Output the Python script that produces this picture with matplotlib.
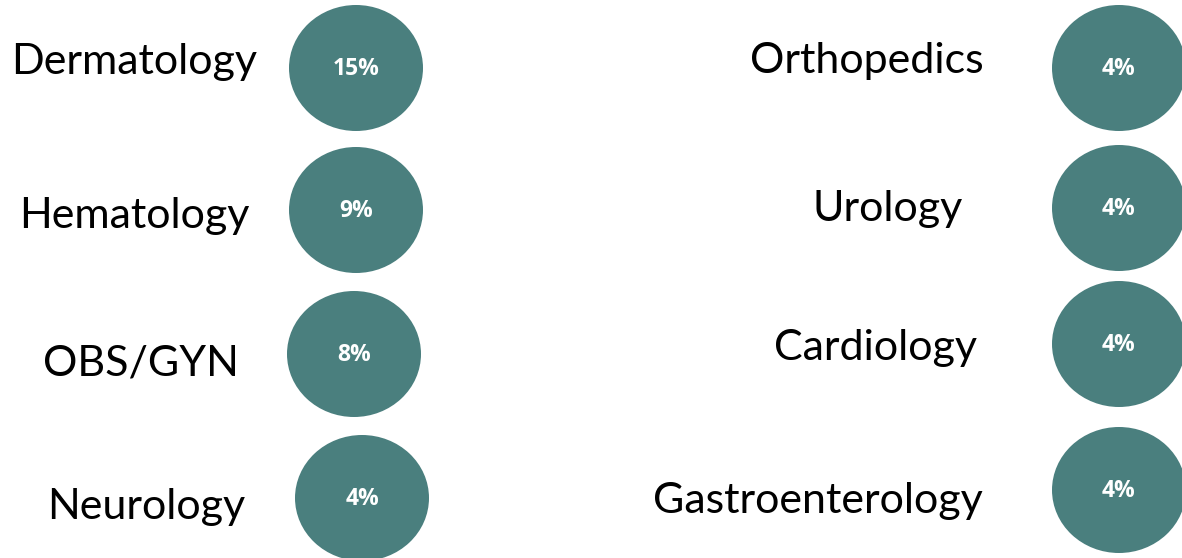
import matplotlib
matplotlib.use("Agg")
import matplotlib.pyplot as plt
from matplotlib.patches import Ellipse

# --- Data ---
left_labels = ["Dermatology", "Hematology", "OBS/GYN", "Neurology"]
left_values = [15, 9, 8, 4]
right_labels = ["Orthopedics", "Urology", "Cardiology", "Gastroenterology"]
right_values = [4, 4, 4, 4]

# --- Layout (pixel coordinates, y grows downward) ---
left_circle_x = [356, 356, 354, 362]
left_circle_y = [68, 210, 354, 498]
left_text_x = [134, 134, 141, 146]
left_text_y = [74, 228, 375, 519]

right_circle_x = [1119, 1119, 1119, 1119]
right_circle_y = [68, 208, 344, 490]
right_text_x = [984, 963, 977, 983]
right_text_y = [73, 221, 360, 513]

circle_w, circle_h = 134, 126
teal = "#4a7f7e"
label_font = "Lato"
pct_font = "Open Sans"

fig = plt.figure(figsize=(11.82, 5.58), dpi=100)
ax = fig.add_axes([0, 0, 1, 1])
ax.set_xlim(0, 1182)
ax.set_ylim(558, 0)
ax.axis("off")


def draw_column(labels, values, cx, cy, tx, ty, ha):
    for lab, val, x, y, lx, ly in zip(labels, values, cx, cy, tx, ty):
        ax.add_patch(Ellipse((x, y), circle_w, circle_h, color=teal, lw=0))
        ax.text(x, y + 1, f"{val}%", ha="center", va="center", color="white",
                fontsize=16.5, fontweight="bold", family=pct_font)
        ax.text(lx, ly, lab, ha=ha, va="baseline", color="black",
                fontsize=31, family=label_font)


draw_column(left_labels, left_values, left_circle_x, left_circle_y,
            left_text_x, left_text_y, "center")
draw_column(right_labels, right_values, right_circle_x, right_circle_y,
            right_text_x, right_text_y, "right")

fig.savefig("out.png", dpi=100)
